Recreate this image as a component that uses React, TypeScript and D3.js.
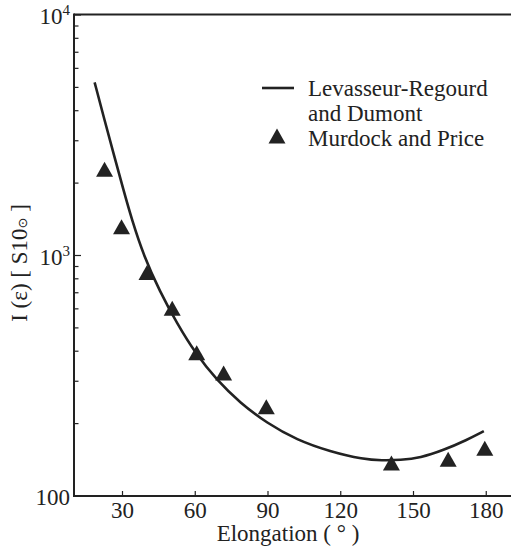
import React from "react";
import * as d3 from "d3";

const curveElong = [18.5, 22.2, 26.3, 30.4, 33.9, 38.7, 45.5, 52.4, 60, 68.9, 78.5, 89.5, 101.9, 115.6, 129.4, 137, 144.6, 152.8, 162.3, 172, 179];
const curveI = [5250, 3780, 2660, 1870, 1405, 1000, 705, 524, 393, 303, 244, 201, 171, 153, 142, 140.5, 141, 144, 155, 171, 186];

const obsElong = [22.6, 29.6, 40.1, 50.5, 60.6, 71.7, 89.3, 140.9, 164.3, 179.4];
const obsI = [2285, 1318, 850, 603, 394, 325, 235, 137, 142, 158];

const xTicks = [30, 60, 90, 120, 150, 180];
const yMajor = [100, 1000, 10000];
const yLabels = [{ base: "100", exp: "" }, { base: "10", exp: "3" }, { base: "10", exp: "4" }];

const INK = "#222";

export default function App() {
  const left = 74, right = 511, top = 14.5, bottom = 496;
  const x = d3.scaleLinear().domain([10, 190]).range([74, 510.5]);
  const y = d3.scaleLog().domain([100, 10000]).range([bottom, 15]);

  const curveData = curveElong.map((e, i) => [e, curveI[i]] as [number, number]);
  const line = d3.line<[number, number]>().x(d => x(d[0])).y(d => y(d[1])).curve(d3.curveBasis);

  const minor: number[] = [];
  [100, 1000].forEach(dec => { for (let k = 2; k <= 9; k++) minor.push(dec * k); });

  const tri = (cx: number, cy: number) => `M${cx},${cy - 7.5}L${cx + 8.5},${cy + 7.5}L${cx - 8.5},${cy + 7.5}Z`;

  return (
    <svg width={512} height={548} style={{ position: "absolute", left: 0, top: 0, background: "#fff" }}>
      <style>{`.t { font-family: "Liberation Serif", "Times New Roman", serif; font-size: 23px; fill: #222; } .sun { font-family: "DejaVu Sans"; font-size: 13px; }`}</style>
      {/* axes */}
      <line x1={left} x2={right} y1={top} y2={top} stroke={INK} strokeWidth={2} />
      <line x1={left} x2={right} y1={bottom} y2={bottom} stroke={INK} strokeWidth={2} />
      <line x1={left} x2={left} y1={top - 1} y2={bottom + 1} stroke={INK} strokeWidth={2} />
      {minor.map(v => (
        <line key={"m" + v} x1={left} x2={left + 4.5} y1={y(v)} y2={y(v)} stroke={INK} strokeWidth={1.2} />
      ))}
      {yMajor.map((v, i) => (
        <g key={"y" + v}>
          <line x1={left} x2={left + 7} y1={y(v)} y2={y(v)} stroke={INK} strokeWidth={1.2} />
          <text className="t" x={70} y={y(v) + 9} textAnchor="end">
            {yLabels[i].base}
            {yLabels[i].exp && <tspan style={{ fontSize: 15 }} dy={-9}>{yLabels[i].exp}</tspan>}
          </text>
        </g>
      ))}
      {xTicks.map(v => (
        <g key={"x" + v}>
          <line x1={x(v)} x2={x(v)} y1={bottom} y2={bottom - 5} stroke={INK} strokeWidth={1.2} />
          <text className="t" x={x(v)} y={518} textAnchor="middle">{v}</text>
        </g>
      ))}
      <text className="t" x={288} y={541} textAnchor="middle">Elongation ( ° )</text>
      <text className="t" transform="translate(27,263) rotate(-90)" textAnchor="middle">
        I (ε) [ S10<tspan className="sun">⊙</tspan> ]
      </text>

      {/* model curve */}
      <path d={line(curveData) || ""} fill="none" stroke={INK} strokeWidth={2.6} />

      {/* observations */}
      {obsElong.map((e, i) => (
        <path key={"o" + i} d={tri(x(e), y(obsI[i]))} fill={INK} />
      ))}

      {/* legend */}
      <line x1={262} x2={294} y1={88} y2={88} stroke={INK} strokeWidth={2.6} />
      <text className="t" x={308} y={96}>Levasseur-Regourd</text>
      <text className="t" x={308} y={121}>and Dumont</text>
      <path d={tri(277, 136)} fill={INK} />
      <text className="t" x={308} y={146}>Murdock and Price</text>
    </svg>
  );
}
